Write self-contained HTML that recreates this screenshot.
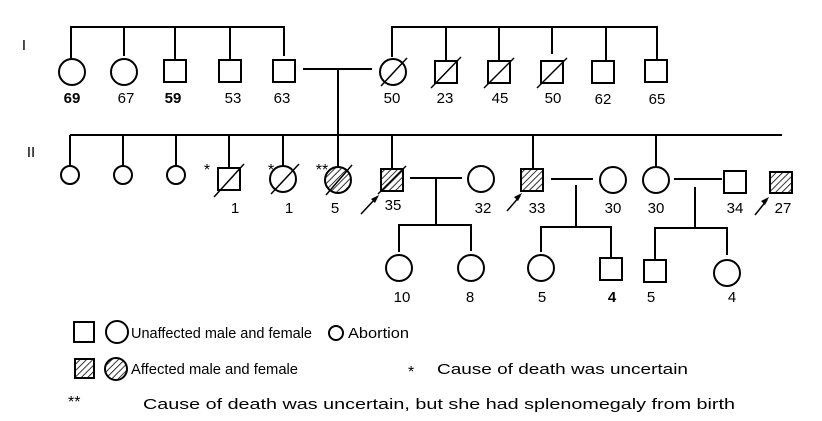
<!DOCTYPE html>
<html><head><meta charset="utf-8"><style>
html,body{margin:0;padding:0;background:#fff;width:822px;height:421px;overflow:hidden}
svg text{font-family:"Liberation Sans",sans-serif;fill:#000}
</style></head><body>
<svg width="822" height="421" viewBox="0 0 822 421" xmlns="http://www.w3.org/2000/svg">
<defs>
<pattern id="h" patternUnits="userSpaceOnUse" width="4.5" height="4.5" patternTransform="rotate(45)">
<line x1="0" y1="0" x2="0" y2="4.5" stroke="#000" stroke-width="1.6"/>
</pattern>
</defs>
<g stroke="#000" stroke-width="2" fill="none">
<polyline points="71,59 71,27 284,27 284,56"/>
<line x1="124" y1="27" x2="124" y2="56"/>
<line x1="175" y1="27" x2="175" y2="60"/>
<line x1="230" y1="27" x2="230" y2="60"/>
<circle cx="72" cy="72" r="13"/>
<circle cx="124" cy="72" r="13"/>
<rect x="164" y="60" width="22" height="22"/>
<rect x="219" y="60" width="22" height="22"/>
<rect x="273" y="60" width="22" height="22"/>
<line x1="303" y1="69" x2="372" y2="69"/>
<line x1="338" y1="69" x2="338" y2="168"/>
<polyline points="392,57 392,27 657,27 657,60"/>
<line x1="446" y1="27" x2="446" y2="61"/>
<line x1="499" y1="27" x2="499" y2="61"/>
<line x1="552" y1="27" x2="552" y2="54"/>
<line x1="606" y1="27" x2="606" y2="61"/>
<circle cx="393" cy="72" r="13"/>
<line x1="381" y1="86" x2="407" y2="58" stroke-width="1.5"/>
<rect x="435" y="61" width="22" height="22"/>
<line x1="431" y1="88" x2="461" y2="57" stroke-width="1.5"/>
<rect x="488" y="61" width="22" height="22"/>
<line x1="484" y1="88" x2="514" y2="58" stroke-width="1.5"/>
<rect x="541" y="61" width="22" height="22"/>
<line x1="537" y1="88" x2="567" y2="58" stroke-width="1.5"/>
<rect x="592" y="61" width="22" height="22"/>
<rect x="645" y="60" width="22" height="22"/>
<line x1="70" y1="135" x2="782" y2="135"/>
<line x1="70" y1="135" x2="70" y2="166"/>
<line x1="123" y1="135" x2="123" y2="166"/>
<line x1="176" y1="135" x2="176" y2="166"/>
<line x1="229" y1="135" x2="229" y2="168"/>
<line x1="283" y1="135" x2="283" y2="166"/>
<line x1="392" y1="135" x2="392" y2="169"/>
<line x1="533" y1="135" x2="533" y2="169"/>
<line x1="656" y1="135" x2="656" y2="166"/>
<circle cx="70" cy="175" r="9"/>
<circle cx="123" cy="175" r="9"/>
<circle cx="176" cy="175" r="9"/>
<rect x="218" y="168" width="22" height="22"/>
<line x1="214" y1="197" x2="244" y2="164" stroke-width="1.5"/>
<circle cx="283" cy="179" r="13"/>
<line x1="271" y1="194" x2="299" y2="164" stroke-width="1.5"/>
<circle cx="338" cy="180" r="13" fill="url(#h)"/>
<line x1="326" y1="195" x2="352" y2="165" stroke-width="1.5"/>
<rect x="381" y="169" width="22" height="22" fill="url(#h)"/>
<line x1="378" y1="194" x2="406" y2="166" stroke-width="1.5"/>
<line x1="410" y1="178" x2="462" y2="178"/>
<line x1="436" y1="178" x2="436" y2="225"/>
<polyline points="399,252 399,225 471,225 471,251"/>
<circle cx="481" cy="179" r="13"/>
<rect x="521" y="169" width="22" height="22" fill="url(#h)"/>
<line x1="551" y1="179" x2="593" y2="179"/>
<line x1="576" y1="185" x2="576" y2="227"/>
<polyline points="541,252 541,227 611,227 611,258"/>
<circle cx="613" cy="180" r="13"/>
<circle cx="656" cy="180" r="13"/>
<line x1="674" y1="179" x2="722" y2="179"/>
<line x1="695" y1="187" x2="695" y2="228"/>
<polyline points="655,260 655,228 727,228 727,255"/>
<rect x="724" y="171" width="22" height="22"/>
<rect x="770" y="172" width="22" height="21" fill="url(#h)"/>
<circle cx="399" cy="268" r="13"/>
<circle cx="471" cy="268" r="13"/>
<circle cx="541" cy="268" r="13"/>
<rect x="600" y="258" width="22" height="22"/>
<rect x="644" y="260" width="22" height="22"/>
<circle cx="727" cy="273" r="13"/>
<line x1="361" y1="214" x2="376" y2="198" stroke-width="1.5"/>
<line x1="507" y1="211" x2="520" y2="196" stroke-width="1.5"/>
<line x1="755" y1="215" x2="767" y2="200" stroke-width="1.5"/>
</g>
<g fill="#000">
<polygon points="379,195 371,199 375,203"/>
<polygon points="522,193 514,197 518,201"/>
<polygon points="769,197 761,201 765,205"/>
</g>
<g font-size="15" text-anchor="middle">
<text x="24" y="50">I</text>
<text x="72" y="103" font-weight="bold">69</text>
<text x="126" y="103">67</text>
<text x="173" y="103" font-weight="bold">59</text>
<text x="233" y="103">53</text>
<text x="282" y="103">63</text>
<text x="392" y="103">50</text>
<text x="445" y="103">23</text>
<text x="500" y="103">45</text>
<text x="553" y="103">50</text>
<text x="603" y="104">62</text>
<text x="657" y="104">65</text>
<text x="31" y="157">II</text>
<text x="235" y="213">1</text>
<text x="289" y="213">1</text>
<text x="335" y="213">5</text>
<text x="393" y="210">35</text>
<text x="483" y="213">32</text>
<text x="537" y="213">33</text>
<text x="613" y="213">30</text>
<text x="656" y="213">30</text>
<text x="735" y="213">34</text>
<text x="783" y="213">27</text>
<text x="402" y="302">10</text>
<text x="470" y="302">8</text>
<text x="542" y="302">5</text>
<text x="612" y="302" font-weight="bold">4</text>
<text x="651" y="302">5</text>
<text x="732" y="302">4</text>
<text x="207" y="175" font-size="16">*</text>
<text x="271" y="175" font-size="16">*</text>
<text x="322" y="175" font-size="16">**</text>
</g>
<g stroke="#000" stroke-width="2" fill="none">
<rect x="74" y="322" width="20" height="20"/>
<circle cx="117" cy="332" r="11"/>
<circle cx="336" cy="333" r="7"/>
<rect x="75" y="359" width="19" height="19" fill="url(#h)"/>
<circle cx="116" cy="369" r="11" fill="url(#h)"/>
</g>
<g font-size="15">
<text x="131" y="338" textLength="181" lengthAdjust="spacingAndGlyphs">Unaffected male and female</text>
<text x="348" y="338" textLength="61" lengthAdjust="spacingAndGlyphs">Abortion</text>
<text x="131" y="374" textLength="167" lengthAdjust="spacingAndGlyphs">Affected male and female</text>
<text x="408" y="377" font-size="16">*</text>
<text x="437" y="374" textLength="251" lengthAdjust="spacingAndGlyphs">Cause of death was uncertain</text>
<text x="68" y="407" font-size="16">**</text>
<text x="143" y="409" textLength="592" lengthAdjust="spacingAndGlyphs">Cause of death was uncertain, but she had splenomegaly from birth</text>
</g>
</svg>
</body></html>
